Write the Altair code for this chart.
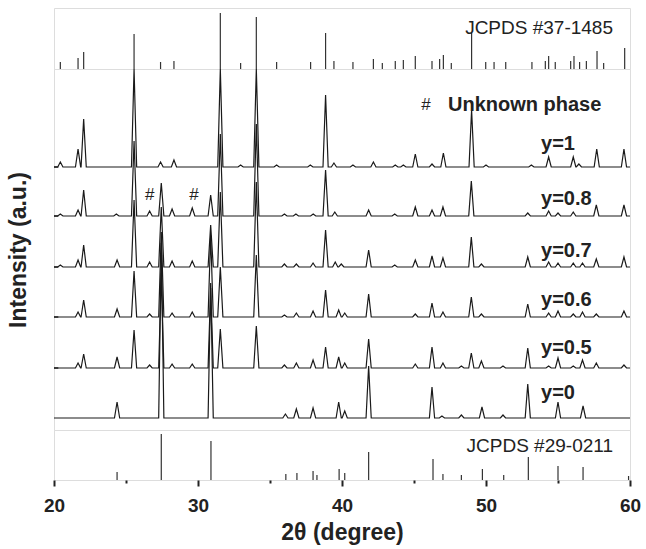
import altair as alt
import pandas as pd

FONT = "Liberation Sans"
X_MIN, X_MAX = 20, 60
HALF_WIDTH = 0.18  # half base width of a drawn peak, in degrees

# ---------------- reference patterns ----------------
REF_TOP_POS = [20.44, 21.67, 22.06, 25.56, 27.40, 28.33, 31.55, 32.96, 34.05, 35.46, 37.82, 38.86, 39.44,
               40.76, 42.18, 42.80, 43.70, 44.26, 45.09, 46.25, 46.78, 47.04, 47.59, 49.00, 49.98, 50.56,
               51.37, 53.19, 54.12, 54.35, 54.81, 55.88, 56.11, 56.50, 56.97, 57.71, 58.17, 59.63]
REF_TOP_INT = [7, 11, 17, 35, 7, 8, 56, 6, 52, 7, 7, 36, 8,
               7, 10, 6, 8, 9, 13, 8, 10, 14, 6, 36, 7, 7,
               7, 7, 8, 13, 7, 8, 13, 7, 8, 18, 6, 21]

REF_BOT_POS = [24.38, 27.45, 30.90, 36.10, 36.87, 37.99, 38.26, 39.80, 40.19, 41.85,
               46.32, 47.01, 48.29, 49.75, 51.23, 52.94, 55.00, 56.74, 59.90]
REF_BOT_INT = [8, 46, 39, 6, 7, 9, 5, 11, 7, 28,
               21, 6, 5, 11, 5, 23, 14, 13, 4]

# ---------------- measured patterns ----------------
SAMPLES = ["y=1", "y=0.8", "y=0.7", "y=0.6", "y=0.5", "y=0"]

POS_Y1 = [20.44, 21.67, 22.06, 25.56, 27.40, 28.33, 31.55, 32.96, 34.05, 35.46, 37.80, 38.86, 39.44,
          40.76, 42.18, 43.70, 44.26, 45.09, 46.25, 47.04, 49.00, 50.00, 53.15, 54.35, 56.06, 56.45,
          57.69, 59.58]
INT_Y1 = [5, 18, 48, 130, 5, 7, 160, 2, 150, 2, 2, 72, 4,
          2, 5, 2, 2, 13, 3, 14, 57, 2, 2, 10, 10, 3,
          18, 18]

POS_Y08 = [20.44, 21.67, 22.06, 24.33, 25.56, 26.64, 27.45, 28.20, 29.60, 30.88, 31.55, 34.05,
           36.00, 36.80, 38.00, 38.86, 39.50, 41.85, 43.66, 45.09, 46.25, 47.01, 48.98, 52.90,
           54.35, 55.00, 56.06, 57.66, 59.58]
INT_Y08 = [2, 6, 26, 2, 75, 5, 33, 7, 8, 21, 82, 92,
           2, 2, 2, 46, 4, 6, 2, 9, 6, 9, 35, 3,
           5, 3, 4, 11, 11]

POS_Y07 = [20.44, 21.67, 22.06, 24.38, 25.56, 26.64, 27.45, 28.20, 29.60, 30.88, 31.55, 34.05,
           36.00, 36.83, 37.99, 38.86, 39.53, 39.95, 41.85, 43.66, 45.09, 46.25, 47.01, 48.98,
           49.68, 52.90, 54.35, 55.00, 56.06, 56.70, 57.66, 59.58]
INT_Y07 = [2, 7, 22, 7, 67, 5, 60, 6, 6, 42, 75, 85,
           3, 3, 4, 37, 5, 3, 17, 2, 7, 11, 9, 30,
           3, 10, 5, 4, 4, 4, 8, 10]

POS_Y06 = [21.67, 22.06, 24.38, 25.56, 26.64, 27.45, 28.20, 29.60, 30.88, 31.55, 34.05,
           36.00, 36.83, 37.99, 38.86, 39.77, 40.19, 41.85, 45.09, 46.25, 47.01, 48.98,
           49.68, 52.90, 54.35, 55.00, 56.06, 56.70, 57.66, 59.58]
INT_Y06 = [5, 17, 8, 46, 3, 85, 4, 5, 82, 50, 62,
           2, 4, 6, 27, 7, 4, 23, 3, 14, 5, 20,
           3, 13, 4, 6, 3, 5, 3, 6]

POS_Y05 = [21.67, 22.06, 24.38, 25.56, 26.64, 27.45, 28.20, 29.60, 30.88, 31.55, 34.05,
           36.00, 36.83, 37.99, 38.86, 39.77, 40.19, 41.85, 45.09, 46.25, 47.01, 48.29,
           48.98, 49.68, 51.18, 52.90, 54.35, 55.00, 56.06, 56.70, 57.66, 59.58]
INT_Y05 = [5, 14, 11, 38, 3, 95, 4, 4, 80, 39, 42,
           3, 5, 8, 21, 11, 5, 29, 4, 21, 5, 2,
           15, 7, 2, 20, 2, 10, 2, 8, 5, 3]

POS_Y0 = [24.38, 27.45, 30.88, 36.07, 36.83, 37.99, 39.77, 40.19, 41.85, 46.25, 46.94,
          48.29, 49.72, 51.18, 52.90, 55.00, 56.74]
INT_Y0 = [16, 175, 135, 4, 9, 10, 16, 7, 52, 31, 2,
          3, 11, 3, 34, 16, 12]

PEAKS = {
    "y=1": (POS_Y1, INT_Y1),
    "y=0.8": (POS_Y08, INT_Y08),
    "y=0.7": (POS_Y07, INT_Y07),
    "y=0.6": (POS_Y06, INT_Y06),
    "y=0.5": (POS_Y05, INT_Y05),
    "y=0": (POS_Y0, INT_Y0),
}

# ---------------- layout (stacking offsets, annotation placement) ----------------
OFFSETS = {"y=1": 263, "y=0.8": 214, "y=0.7": 163, "y=0.6": 113, "y=0.5": 62, "y=0": 12}
LABEL_X = 53.82
LABEL_Y = {"y=1": 286, "y=0.8": 231, "y=0.7": 179, "y=0.6": 130, "y=0.5": 82, "y=0": 37}
HASH_MARKS = [(26.65, 235), (29.72, 235)]
LEFT_TICKS = [62, 113, 163, 214, 263]
TICK_LEN = 0.3  # degrees

# ---------------- build tables ----------------
rows = []
for s in SAMPLES:
    pos, inten = PEAKS[s]
    base = OFFSETS[s]
    pts = [(X_MIN, base)]
    for c, h in sorted(zip(pos, inten)):
        pts += [(c - HALF_WIDTH, base), (c, base + h), (c + HALF_WIDTH, base)]
    pts.append((X_MAX, base))
    for i, (x, y) in enumerate(pts):
        rows.append({"sample": s, "two_theta": x, "signal": y, "i": i})
traces = pd.DataFrame(rows)

top_df = pd.DataFrame({"two_theta": REF_TOP_POS, "intensity": REF_TOP_INT})
bot_df = pd.DataFrame({"two_theta": REF_BOT_POS, "intensity": REF_BOT_INT})

labels_df = pd.DataFrame({"text": SAMPLES, "x": [LABEL_X] * len(SAMPLES),
                          "y": [LABEL_Y[s] for s in SAMPLES]})
hash_df = pd.DataFrame({"text": ["#"] * len(HASH_MARKS),
                        "x": [h[0] for h in HASH_MARKS], "y": [h[1] for h in HASH_MARKS]})
ticks_df = pd.DataFrame({"x": [X_MIN] * len(LEFT_TICKS),
                         "x2": [X_MIN + TICK_LEN] * len(LEFT_TICKS), "y": LEFT_TICKS})

xs = alt.Scale(domain=[X_MIN, X_MAX], nice=False, zero=False)
W = 576

# ---------------- top panel ----------------
top_y = alt.Scale(domain=[0, 61], nice=False, zero=False)
top_sticks = alt.Chart(top_df).mark_rule(color="#333333", strokeWidth=1.2).encode(
    x=alt.X("two_theta:Q", scale=xs, axis=None),
    y=alt.Y("intensity:Q", scale=top_y, axis=None),
    y2=alt.datum(0),
)
top_text = alt.Chart(pd.DataFrame({"t": ["JCPDS #37-1485"], "x": [58.82], "y": [41]})).mark_text(
    align="right", baseline="middle", fontSize=19, color="#222222", font=FONT
).encode(x=alt.X("x:Q", scale=xs, axis=None), y=alt.Y("y:Q", scale=top_y, axis=None), text="t:N")
top = alt.layer(top_sticks, top_text).properties(width=W, height=61)

# ---------------- main panel ----------------
main_y = alt.Scale(domain=[0, 361], nice=False, zero=False, clamp=True)
lines = alt.Chart(traces).mark_line(color="#1a1a1a", strokeWidth=1.2, clip=True).encode(
    x=alt.X("two_theta:Q", scale=xs, axis=None),
    y=alt.Y("signal:Q", scale=main_y,
            axis=alt.Axis(title="Intensity (a.u.)", labels=False, ticks=False, domain=False,
                          grid=False, titleFontSize=23, titleFontWeight="bold",
                          titleColor="#222222", titlePadding=24, titleFont=FONT)),
    detail="sample:N",
    order="i:Q",
)
sample_labels = alt.Chart(labels_df).mark_text(
    align="left", baseline="middle", fontSize=20, fontWeight="bold", color="#222222", font=FONT
).encode(x=alt.X("x:Q", scale=xs), y=alt.Y("y:Q", scale=main_y), text="text:N")
hashes = alt.Chart(hash_df).mark_text(
    align="center", baseline="middle", fontSize=17, color="#222222", font=FONT
).encode(x=alt.X("x:Q", scale=xs), y=alt.Y("y:Q", scale=main_y), text="text:N")
legend_hash = alt.Chart(pd.DataFrame({"t": ["#"], "x": [45.83], "y": [325]})).mark_text(
    align="center", baseline="middle", fontSize=17, color="#222222", font=FONT
).encode(x=alt.X("x:Q", scale=xs), y=alt.Y("y:Q", scale=main_y), text="t:N")
legend_text = alt.Chart(pd.DataFrame({"t": ["Unknown phase"], "x": [47.36], "y": [325]})).mark_text(
    align="left", baseline="middle", fontSize=20, fontWeight="bold", color="#222222", font=FONT
).encode(x=alt.X("x:Q", scale=xs), y=alt.Y("y:Q", scale=main_y), text="t:N")
left_ticks = alt.Chart(ticks_df).mark_rule(strokeWidth=1.5, color="#222222").encode(
    x=alt.X("x:Q", scale=xs), x2="x2:Q", y=alt.Y("y:Q", scale=main_y))
main = alt.layer(lines, left_ticks, sample_labels, hashes, legend_hash, legend_text).properties(
    width=W, height=361)

# ---------------- bottom panel ----------------
bot_y = alt.Scale(domain=[0, 50], nice=False, zero=False)
x_axis = alt.Axis(
    title="2θ (degree)", values=[20, 25, 30, 35, 40, 45, 50, 55, 60],
    labelExpr="datum.value % 10 == 0 ? datum.label : ''",
    tickSize={"condition": {"test": "datum.value % 10 === 0", "value": 6}, "value": 3},
    tickWidth=2, tickColor="#222222", domain=False, grid=False, labelFlush=False,
    labelFontSize=19, labelFontWeight="bold", labelColor="#222222", labelFont=FONT,
    labelPadding=10, titleFontSize=23, titleFontWeight="bold", titleColor="#222222",
    titleFont=FONT, titlePadding=6,
)
bot_sticks = alt.Chart(bot_df).mark_rule(color="#333333", strokeWidth=1.2).encode(
    x=alt.X("two_theta:Q", scale=xs, axis=x_axis),
    y=alt.Y("intensity:Q", scale=bot_y, axis=None),
    y2=alt.datum(0),
)
bot_text = alt.Chart(pd.DataFrame({"t": ["JCPDS #29-0211"], "x": [58.82], "y": [34]})).mark_text(
    align="right", baseline="middle", fontSize=19, color="#222222", font=FONT
).encode(x=alt.X("x:Q", scale=xs), y=alt.Y("y:Q", scale=bot_y), text="t:N")
bottom = alt.layer(bot_sticks, bot_text).properties(width=W, height=50)

chart = alt.vconcat(top, main, bottom, spacing=0, bounds="flush").properties(
    padding={"left": 6, "top": 7, "right": 2, "bottom": 0}
).configure_view(stroke="#111111", strokeWidth=2).configure(font=FONT, background="white")

chart.save("out.html", embed_options={"renderer": "svg", "actions": False})
